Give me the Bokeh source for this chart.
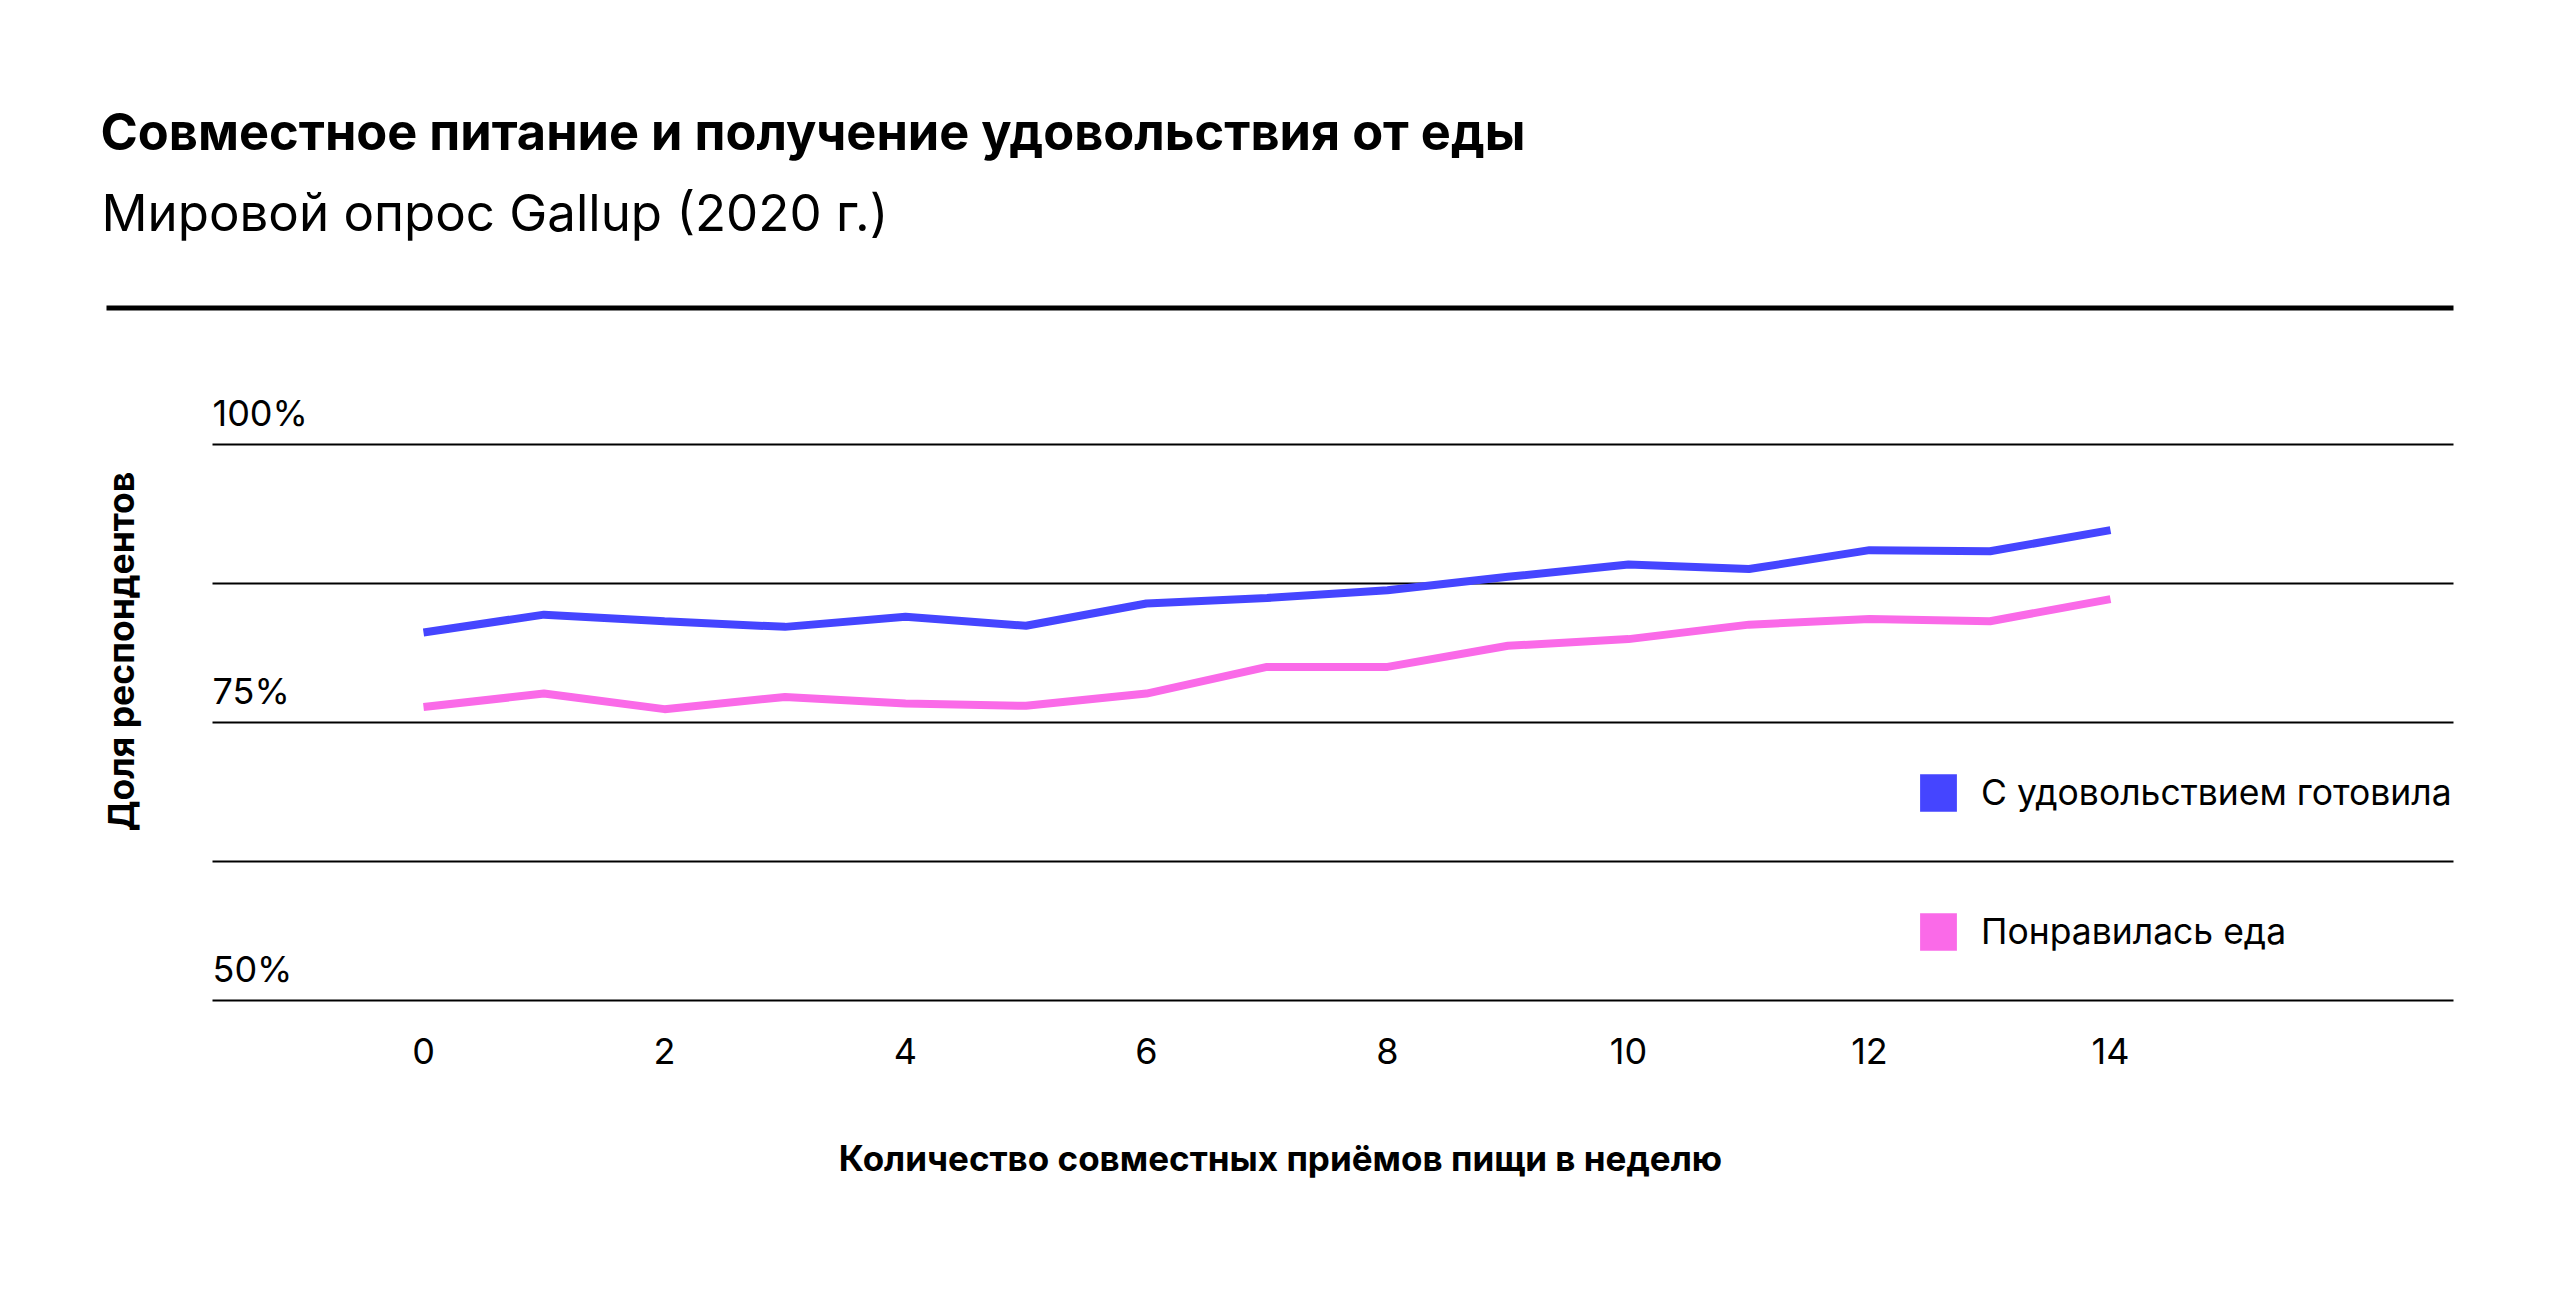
from bokeh.plotting import figure
from bokeh.models import Range1d, FixedTicker, Label, Legend, LegendItem
from bokeh.core.properties import value
from bokeh.embed import file_html
from bokeh.resources import INLINE
import math

# ---- data ----
meals = list(range(15))
cooked_pct = [83.1, 84.7, 84.1, 83.6, 84.5, 83.7, 85.7, 86.2, 86.9, 88.1, 89.2, 88.8, 90.5, 90.4, 92.3]
liked_pct = [76.4, 77.6, 76.2, 77.3, 76.7, 76.5, 77.6, 80.0, 80.0, 81.9, 82.5, 83.8, 84.3, 84.1, 86.1]
x_ticks = [0, 2, 4, 6, 8, 10, 12, 14]
grid_vals = [50, 62.5, 75, 87.5, 100]
y_label_vals = [50, 75, 100]
y_label_texts = ["50%", "75%", "100%"]
series_names = ["С удовольствием готовила", "Понравилась еда"]
title_text = "Совместное питание и получение удовольствия от еды"
subtitle_text = "Мировой опрос Gallup (2020 г.)"
x_title = "Количество совместных приёмов пищи в неделю"
y_title = "Доля респондентов"

BLUE = "#4545FF"
PINK = "#FA6AE8"
FONT = "Inter"

W, H = 2544, 1284
FL, FR, FT, FB = 90, 2470, 90, 1010  # frame edges in px
PX_PER_X = 120.5
X0_PX = 423
PX_PER_Y = 11.12
Y100_PX = 444

def data_x(px):
    return (px - X0_PX) / PX_PER_X
def data_y(px):
    return 100 + (Y100_PX - px) / PX_PER_Y

x_start, x_end = data_x(FL), data_x(FR)
y_top, y_bot = data_y(FT), data_y(FB)
plot_left = data_x(212)     # grid starts here
plot_right = data_x(2453)   # grid / rule end here
rule_left = data_x(106)
rule_y = data_y(307.5)

p = figure(width=W, height=H, output_backend="svg", toolbar_location=None,
           x_range=Range1d(x_start, x_end), y_range=Range1d(y_bot, y_top),
           y_axis_location=None,
           min_border_left=FL, min_border_right=W - FR,
           min_border_top=FT, min_border_bottom=H - FB)
p.outline_line_color = None
p.background_fill_color = "white"
p.border_fill_color = "white"
p.xgrid.visible = False
p.ygrid.visible = False

# grid lines (starting at the plot's left edge)
p.segment(x0=[plot_left] * len(grid_vals), x1=[plot_right] * len(grid_vals),
          y0=grid_vals, y1=grid_vals, line_color="black", line_width=2)

# heavy rule under the header
p.segment(x0=[rule_left], x1=[plot_right], y0=[rule_y], y1=[rule_y],
          line_color="black", line_width=5)

# x axis
ax = p.xaxis[0]
ax.ticker = FixedTicker(ticks=x_ticks)
ax.axis_line_color = None
ax.major_tick_line_color = None
ax.minor_tick_line_color = None
ax.major_tick_out = 0
ax.major_tick_in = 0
ax.major_label_standoff = 27
ax.major_label_text_font = FONT
ax.major_label_text_font_size = "36px"
ax.major_label_text_color = "black"
ax.axis_label = x_title
ax.axis_label_text_font = FONT
ax.axis_label_text_font_style = "bold"
ax.axis_label_text_font_size = "35px"
ax.axis_label_text_color = "black"
ax.axis_label_standoff = 70

# lines
r1 = p.line(meals, cooked_pct, line_color=BLUE, line_width=8)
r2 = p.line(meals, liked_pct, line_color=PINK, line_width=8)

# y labels above gridlines
p.text(x=[plot_left] * len(y_label_vals), y=y_label_vals, text=y_label_texts,
       text_font=value(FONT), text_font_size="36px", text_color="black",
       text_baseline="alphabetic", text_align="left", y_offset=-32)

# legend squares
nan = float("nan")
q1 = p.quad(left=[nan], right=[nan], top=[nan], bottom=[nan], fill_color=BLUE, line_color=None)
q2 = p.quad(left=[nan], right=[nan], top=[nan], bottom=[nan], fill_color=PINK, line_color=None)
legend = Legend(items=[LegendItem(label=series_names[0], renderers=[q1]),
                       LegendItem(label=series_names[1], renderers=[q2])],
                location=(1915 - FL, FB - 954.5), orientation="vertical",
                glyph_width=46, glyph_height=47, spacing=92, padding=0, margin=0,
                label_standoff=20, border_line_color=None, background_fill_alpha=0,
                label_text_font=FONT, label_text_font_size="35.5px", label_text_color="black")
p.add_layout(legend, "center")

# header and y title (screen units relative to frame bottom-left)
def sx(X):
    return X - FL
def sy(Y):
    return FB - Y

p.add_layout(Label(x=sx(100), y=sy(131), x_units="screen", y_units="screen", text=title_text,
                   text_font=FONT, text_font_style="bold", text_font_size="50.5px",
                   text_color="black", text_baseline="alphabetic"))
p.add_layout(Label(x=sx(101), y=sy(212), x_units="screen", y_units="screen", text=subtitle_text,
                   text_font=FONT, text_font_size="51px",
                   text_color="black", text_baseline="alphabetic"))
p.add_layout(Label(x=sx(121), y=sy(651), x_units="screen", y_units="screen", text=y_title,
                   angle=math.pi / 2, text_font=FONT, text_font_style="bold",
                   text_font_size="35.5px", text_color="black", text_align="center",
                   text_baseline="alphabetic"))

open("out.html", "w").write(file_html(p, INLINE))
